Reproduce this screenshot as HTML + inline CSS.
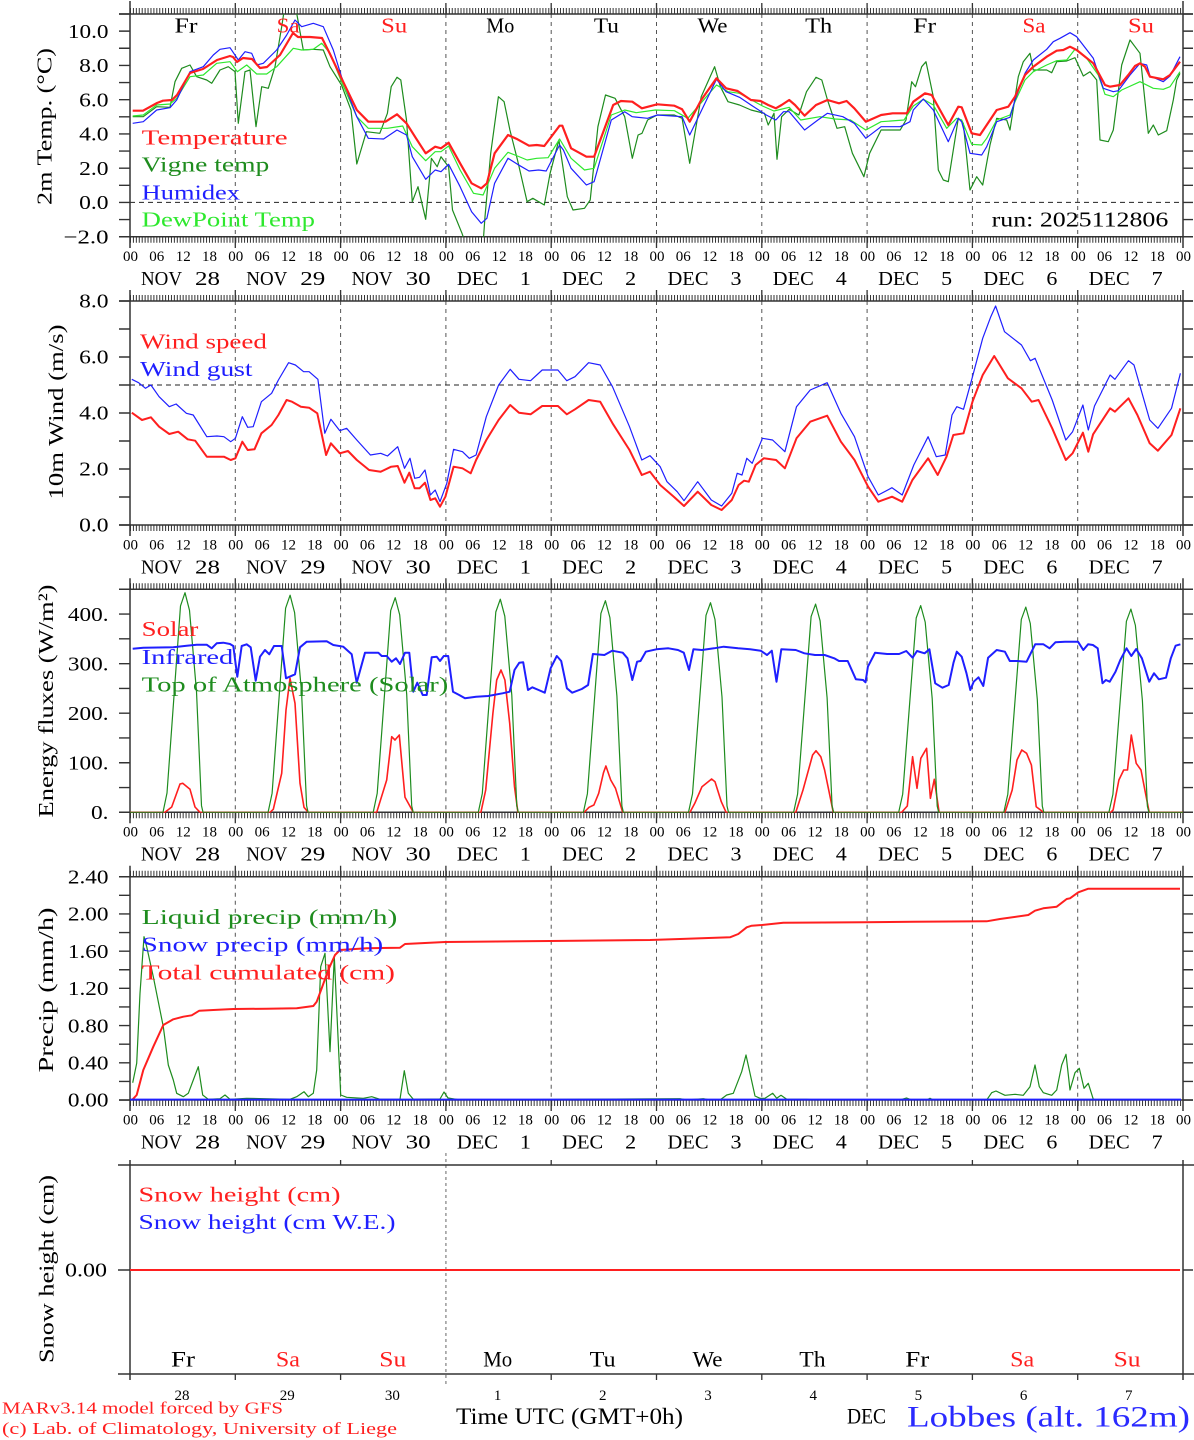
<!DOCTYPE html>
<html><head><meta charset="utf-8"><style>
html,body{margin:0;padding:0;background:#fff;}
svg{display:block;}
text{font-family:"Liberation Serif",serif;}
</style></head><body>
<svg width="1194" height="1440" viewBox="0 0 1194 1440" xmlns="http://www.w3.org/2000/svg">
<rect width="1194" height="1440" fill="#fff"/>
<defs>
<clipPath id="c1"><rect x="130" y="14" width="1053" height="222.7"/></clipPath>
<clipPath id="c2"><rect x="130" y="301" width="1053" height="224"/></clipPath>
<clipPath id="c3"><rect x="130" y="589.3" width="1053" height="223.5"/></clipPath>
<clipPath id="c4"><rect x="130" y="876.7" width="1053" height="223.8"/></clipPath>
</defs>

<!-- ============ PANEL 1 ============ -->
<g stroke="#555" stroke-width="1" stroke-dasharray="4 4" fill="none">
<path d="M235.3 14V236.7M340.6 14V236.7M445.9 14V236.7M551.2 14V236.7M656.5 14V236.7M761.8 14V236.7M867.1 14V236.7M972.4 14V236.7M1077.7 14V236.7"/>
</g>
<line x1="130" y1="202.4" x2="1183" y2="202.4" stroke="#222" stroke-width="1" stroke-dasharray="5 4"/>
<g stroke="#333" fill="none">
<line x1="119" y1="14" x2="1193" y2="14" stroke-width="1.5"/>
<line x1="119" y1="236.7" x2="1193" y2="236.7" stroke-width="1.5"/>
<line x1="130" y1="1" x2="130" y2="248" stroke-width="1.5"/>
<line x1="1183" y1="1" x2="1183" y2="248" stroke-width="1.5"/>
<line x1="130" y1="11" x2="1183" y2="11" stroke-width="6" stroke-dasharray="1 1.925"/>
<line x1="130" y1="239.7" x2="1183" y2="239.7" stroke-width="6" stroke-dasharray="1 1.925"/>
<path stroke-width="1.3" d="M235.3 3V14M340.6 3V14M445.9 3V14M551.2 3V14M656.5 3V14M761.8 3V14M867.1 3V14M972.4 3V14M1077.7 3V14M235.3 236.7V248M340.6 236.7V248M445.9 236.7V248M551.2 236.7V248M656.5 236.7V248M761.8 236.7V248M867.1 236.7V248M972.4 236.7V248M1077.7 236.7V248"/>
<line x1="124.5" y1="13.3" x2="124.5" y2="237.4" stroke-width="11" stroke-dasharray="1.4 15.73"/>
<line x1="1188" y1="13.3" x2="1188" y2="237.4" stroke-width="10" stroke-dasharray="1.4 15.73"/>
</g>
<g clip-path="url(#c1)" fill="none" stroke-linejoin="round">
<polyline stroke="#1e8c1e" stroke-width="1.2" points="132.7,116.7 143.3,116.7 156.7,106.7 170,107.3 175,81.7 181.7,68.3 190,65 196.7,76.7 206.7,80 211.7,83.3 220,70 228.3,66.7 235,71.7 238.3,123.3 245,71.7 250,70 256,126.7 261.7,86.7 268.3,88.3 275,66.7 281.7,26.7 285,5 292,5 296.7,13.3 303.3,50 313.3,49.3 323.3,50 330,66.7 341.5,85 351,110 356.8,164 366.4,131.7 379.8,133.3 387.4,113.3 391.2,86.7 397,77.3 400.8,80 406.5,120 412.3,201.7 418,186.7 425.7,219.3 431.4,158.3 437.2,166.7 441,156.7 448.6,166.7 452.5,210 462,233.3 466,245 483,245 485,216.7 490.7,153.3 498.4,96.7 504.1,101.7 509.9,130 517.5,160 527.1,201.7 532.8,198.3 544.3,205 550.1,173.3 558.9,140 567.3,196.7 573,210 584.5,208.3 590.2,200 597.9,126.7 605.5,95 615.1,98.3 624.7,116.7 632.3,158.3 638.1,135 642,133.3 647.6,120 657.2,115 674.4,115 682.1,118.3 689.7,163.3 701.2,96.7 714.6,66.7 720.4,86.7 728,101.7 739.5,105 751,110 764.4,113.3 768.2,125 774,113.3 777,159.3 781.6,116.7 789.2,109.3 798.8,115 806.5,91.7 816,77.3 821.8,80 827.5,100 837,128.3 844.7,126.7 852.4,153.3 863.9,176.7 869.6,153.3 881.1,130 900.2,130 906,120 911.7,81.7 915.5,86.7 921.7,66.7 926,61.7 933.3,96.7 938.3,170 943.3,180 948.3,181.7 958.3,118.3 963.3,123.3 970,190 976.7,176.7 982.7,185 990,145 996.7,118.3 1006.7,120 1010,130 1018.3,76.7 1023.3,61.7 1030,53.3 1033.3,70 1046.7,70 1051.7,72.7 1056.7,61.7 1066.7,61 1075,57.7 1083.3,76 1090,71.7 1096.7,80 1100,140 1108.3,141.7 1113.3,130 1121.7,65 1130,40 1140,53.3 1148.3,133.3 1153.3,125 1158.3,135 1166.7,130.7 1173.3,100 1176.7,80 1180,73.3"/>
<polyline stroke="#2ee82e" stroke-width="1.2" points="132.7,116 143.3,115 156.7,105 170,104 176.7,98.3 190,76.7 203.3,75 216.7,63.3 230,61.7 237.3,71.7 246.7,65 256.7,74 266.7,74 276.7,66.7 293.3,48.3 301.7,50 313.3,49.3 321.7,43.3 330,53.3 341.5,81.7 356.8,116.7 368.3,128.3 387.4,128.3 402.7,126 412.3,146.7 425.7,160.7 435.2,151.7 441,151.7 448.6,146 460.1,170 473.5,193.3 483.1,195 494.6,168.3 508,152.3 517.5,156 527.1,160 536.7,158.3 548.1,157.7 559.6,139 571.1,158.3 584.5,170 594.1,168.3 611.3,115 624.7,110 636.2,112.7 655.3,110 674.4,110.7 687.8,118.3 716.5,85 728,91.7 739.5,93.3 762.5,106 773.9,111 789.2,107.3 800.7,120 819.9,116.7 835.2,119 850.5,120 865.8,130 881.1,121.7 904,120 913.3,106 923.3,99.3 933.3,105 946.7,128.3 956.7,118.3 961.7,120 971.7,144.3 981.7,145 986.7,138.3 996.7,120 1010,115 1015,101.7 1025,80 1033.3,71.7 1046.7,65 1056.7,60.7 1066.7,60 1075,49.3 1086.7,58.3 1098.3,75 1105,94.3 1113.3,96.7 1121.7,90 1140,81.7 1153.3,88.3 1163.3,89.3 1170,86.7 1180,71.7"/>
<polyline stroke="#1f1fff" stroke-width="1.2" points="132.7,123.3 143.3,121.7 156.7,110 170,107.7 176.7,100 190,71.7 203.3,66.7 213.3,55 220,49.3 230,47.7 238.3,60 245,51.7 251.7,53.3 256.7,65 263.3,63.3 276.7,50 286.7,35 295,20 301.7,26.7 313.3,23.3 323.3,26.7 333.3,50 341.5,76.7 356.8,116.7 368.3,138.3 383.6,139 397,130 406.5,135 412.3,156.7 425.7,179.3 435.2,170 441,171.7 448.6,164.3 460.1,186.7 471.6,211.7 481.2,223.3 486.9,218.3 494.6,183.3 508,158.3 517.5,164.3 529,171 538.6,170 546.2,171 559.6,145 563.4,150 571.1,168.3 586.4,185 594.1,181.7 611.3,120 624.7,111.7 632.3,116.7 647.6,118.3 657.2,115 682.1,116.7 689.7,135 716.5,79.3 726.1,91.7 739.5,97.3 751,105 766.3,115 775.8,120 783.5,111.7 789.2,111.7 804.6,130 817.9,120 827.5,113.3 842.8,116.7 854.3,123.3 865.8,138.3 881.1,126.7 900.2,126.7 910,121.7 913.3,110 923.3,99 933.3,110 948.3,141.7 958.3,118.3 961.7,121.7 970,153.3 981.7,155 986.7,146.7 996.7,121.7 1010,117.3 1015,100 1025,73.3 1033.3,60 1046.7,49.3 1053.3,41.7 1060,38.3 1070,32.7 1076.7,36.7 1093.3,58.3 1103.3,88.3 1113.3,91.7 1118.3,90.7 1130,75 1140,63.3 1146.7,65 1150,76 1163.3,81.7 1170,76 1180,56.7"/>
<polyline stroke="#ff1f1f" stroke-width="2.2" points="132.7,110.7 143,110.7 157,103 163,100.7 172,100 177,95 190,73 203,69 217,60 230,56 233,57 237,62 243,58 252,59 260,68 267,67 280,55 293,33 298,37 310,37 322,38 330,54 341.5,78.3 356.8,110 368.3,121.7 385.5,121.7 397,114.3 406.5,123.3 416,138.3 425.7,153.3 435.2,146.7 441,148.3 448.6,142.7 460.1,163.3 471.6,183.3 481.2,188.3 486.9,183.3 494.6,153.3 508,135 517.5,139.3 529,145.7 536.7,145 544.3,146 559.6,125.7 562.3,125.7 571.1,148.3 586.4,156.7 594.1,156.7 613.2,105 620.9,101 632.3,101.7 641.9,108.3 657.2,104.3 674.4,105.7 682.1,109.3 689.7,121.7 701.2,100 716.5,78.3 726.1,88.3 737.6,91 751,100 760.5,101 768.2,105 775.8,108.3 781.6,105 789.2,100 795,105 804.6,115.7 816,105 827.5,100 839,103.3 846.6,101 854.3,108.3 865.8,121.7 881.1,115 892.6,113.3 906.7,113.3 913.3,101.7 925,93.3 931.7,95 948.3,125 958.3,106.7 961.7,107.3 971.7,133.3 980,135 986.7,125 996.7,110 1008.3,106.7 1015,96.7 1025,75 1033.3,66.7 1046.7,56.7 1056.7,50.7 1063.3,50 1070,46.7 1076.7,50 1093.3,63.3 1105,85 1110,86.7 1120,85 1128.3,75 1135,66 1140,63.3 1145,66.7 1150,76.7 1163.3,79.3 1170,75 1180,61.7"/>
</g>
<g font-size="21" text-anchor="middle">
<text x="186" y="32.3" textLength="23" lengthAdjust="spacingAndGlyphs">Fr</text>
<text x="288.1" y="32.3" textLength="23" lengthAdjust="spacingAndGlyphs" fill="#ff1f1f">Sa</text>
<text x="394.2" y="32.3" textLength="26" lengthAdjust="spacingAndGlyphs" fill="#ff1f1f">Su</text>
<text x="500.3" y="32.3" textLength="28" lengthAdjust="spacingAndGlyphs">Mo</text>
<text x="606.4" y="32.3" textLength="25" lengthAdjust="spacingAndGlyphs">Tu</text>
<text x="712.5" y="32.3" textLength="30" lengthAdjust="spacingAndGlyphs">We</text>
<text x="818.6" y="32.3" textLength="27" lengthAdjust="spacingAndGlyphs">Th</text>
<text x="924.7" y="32.3" textLength="23" lengthAdjust="spacingAndGlyphs">Fr</text>
<text x="1034" y="32.3" textLength="23" lengthAdjust="spacingAndGlyphs" fill="#ff1f1f">Sa</text>
<text x="1141" y="32.3" textLength="26" lengthAdjust="spacingAndGlyphs" fill="#ff1f1f">Su</text>
</g>
<g font-size="21.5">
<text x="141.7" y="144.3" textLength="146" lengthAdjust="spacingAndGlyphs" fill="#ff1f1f">Temperature</text>
<text x="141.7" y="171.7" textLength="127.6" lengthAdjust="spacingAndGlyphs" fill="#1e8c1e">Vigne temp</text>
<text x="141.7" y="199.3" textLength="98.3" lengthAdjust="spacingAndGlyphs" fill="#1f1fff">Humidex</text>
<text x="141.7" y="226.7" textLength="173.3" lengthAdjust="spacingAndGlyphs" fill="#2ee82e">DewPoint Temp</text>
<text x="991.7" y="226.7" textLength="176.6" lengthAdjust="spacingAndGlyphs" font-size="21">run: 2025112806</text>
</g>
<g font-size="20" text-anchor="end">
<text x="108.5" y="37.8" textLength="40.6" lengthAdjust="spacingAndGlyphs">10.0</text>
<text x="108.5" y="72.1" textLength="29.4" lengthAdjust="spacingAndGlyphs">8.0</text>
<text x="108.5" y="106.3" textLength="29.4" lengthAdjust="spacingAndGlyphs">6.0</text>
<text x="108.5" y="140.6" textLength="29.4" lengthAdjust="spacingAndGlyphs">4.0</text>
<text x="108.5" y="174.8" textLength="29.4" lengthAdjust="spacingAndGlyphs">2.0</text>
<text x="108.5" y="209.1" textLength="29.4" lengthAdjust="spacingAndGlyphs">0.0</text>
<text x="108.5" y="243.4" textLength="45" lengthAdjust="spacingAndGlyphs">−2.0</text>
</g>
<text transform="translate(51.5,126.5) rotate(-90)" font-size="21" text-anchor="middle" textLength="157" lengthAdjust="spacingAndGlyphs">2m Temp. (°C)</text>
<text font-size="15" y="261" x="123 130.5 149.3 156.8 175.7 183.2 202 209.5 228.3 235.8 254.6 262.1 281 288.5 307.3 314.8 333.6 341.1 359.9 367.4 386.3 393.8 412.6 420.1 438.9 446.4 465.2 472.7 491.6 499.1 517.9 525.4 544.2 551.7 570.5 578 596.9 604.4 623.2 630.7 649.5 657 675.8 683.3 702.2 709.7 728.5 736 754.8 762.3 781.1 788.6 807.5 815 833.8 841.3 860.1 867.6 886.4 893.9 912.8 920.3 939.1 946.6 965.4 972.9 991.7 999.2 1018.1 1025.6 1044.4 1051.9 1070.7 1078.2 1097 1104.5 1123.4 1130.9 1149.7 1157.2 1176 1183.5">0006121800061218000612180006121800061218000612180006121800061218000612180006121800</text>
<g font-size="20">
<text x="141" y="285" textLength="41" lengthAdjust="spacingAndGlyphs">NOV</text><text x="220" y="285" text-anchor="end" textLength="25" lengthAdjust="spacingAndGlyphs">28</text>
<text x="246.3" y="285" textLength="41" lengthAdjust="spacingAndGlyphs">NOV</text><text x="325.3" y="285" text-anchor="end" textLength="25" lengthAdjust="spacingAndGlyphs">29</text>
<text x="351.6" y="285" textLength="41" lengthAdjust="spacingAndGlyphs">NOV</text><text x="430.6" y="285" text-anchor="end" textLength="25" lengthAdjust="spacingAndGlyphs">30</text>
<text x="456.9" y="285" textLength="41" lengthAdjust="spacingAndGlyphs">DEC</text><text x="530.9" y="285" text-anchor="end" textLength="11" lengthAdjust="spacingAndGlyphs">1</text>
<text x="562.2" y="285" textLength="41" lengthAdjust="spacingAndGlyphs">DEC</text><text x="636.2" y="285" text-anchor="end" textLength="11" lengthAdjust="spacingAndGlyphs">2</text>
<text x="667.5" y="285" textLength="41" lengthAdjust="spacingAndGlyphs">DEC</text><text x="741.5" y="285" text-anchor="end" textLength="11" lengthAdjust="spacingAndGlyphs">3</text>
<text x="772.8" y="285" textLength="41" lengthAdjust="spacingAndGlyphs">DEC</text><text x="846.8" y="285" text-anchor="end" textLength="11" lengthAdjust="spacingAndGlyphs">4</text>
<text x="878.1" y="285" textLength="41" lengthAdjust="spacingAndGlyphs">DEC</text><text x="952.1" y="285" text-anchor="end" textLength="11" lengthAdjust="spacingAndGlyphs">5</text>
<text x="983.4" y="285" textLength="41" lengthAdjust="spacingAndGlyphs">DEC</text><text x="1057.4" y="285" text-anchor="end" textLength="11" lengthAdjust="spacingAndGlyphs">6</text>
<text x="1088.7" y="285" textLength="41" lengthAdjust="spacingAndGlyphs">DEC</text><text x="1162.7" y="285" text-anchor="end" textLength="11" lengthAdjust="spacingAndGlyphs">7</text>
</g>

<!-- ============ PANEL 2 ============ -->
<g stroke="#555" stroke-width="1" stroke-dasharray="4 4" fill="none">
<path d="M235.3 301V525M340.6 301V525M445.9 301V525M551.2 301V525M656.5 301V525M761.8 301V525M867.1 301V525M972.4 301V525M1077.7 301V525"/>
</g>
<line x1="130" y1="385" x2="1183" y2="385" stroke="#222" stroke-width="1" stroke-dasharray="5 4"/>
<g stroke="#333" fill="none">
<line x1="119" y1="301" x2="1193" y2="301" stroke-width="1.5"/>
<line x1="119" y1="525" x2="1193" y2="525" stroke-width="1.5"/>
<line x1="130" y1="290" x2="130" y2="536" stroke-width="1.5"/>
<line x1="1183" y1="290" x2="1183" y2="536" stroke-width="1.5"/>
<line x1="130" y1="298" x2="1183" y2="298" stroke-width="6" stroke-dasharray="1 1.925"/>
<line x1="130" y1="528" x2="1183" y2="528" stroke-width="6" stroke-dasharray="1 1.925"/>
<path stroke-width="1.3" d="M235.3 290V301M340.6 290V301M445.9 290V301M551.2 290V301M656.5 290V301M761.8 290V301M867.1 290V301M972.4 290V301M1077.7 290V301M235.3 525V536M340.6 525V536M445.9 525V536M551.2 525V536M656.5 525V536M761.8 525V536M867.1 525V536M972.4 525V536M1077.7 525V536"/>
<line x1="124.5" y1="300.3" x2="124.5" y2="525.7" stroke-width="11" stroke-dasharray="1.4 26.6"/>
<line x1="1188" y1="300.3" x2="1188" y2="525.7" stroke-width="10" stroke-dasharray="1.4 26.6"/>
</g>
<g clip-path="url(#c2)" fill="none" stroke-linejoin="round">
<polyline stroke="#1f1fff" stroke-width="1.2" points="131.8,379.3 138.6,382.7 145.5,388.3 150.9,385 159.1,396.7 169.3,406.7 176.1,404 186.4,413.3 193.2,415 206.8,436.7 217,436 223.9,436.7 230.7,441.7 235.4,438.3 242.3,416.7 247.7,427.3 253.2,426.7 261.4,401.7 271.6,393.3 278.4,380 288.6,362.7 295.4,365 303.6,371.7 309.1,371.7 317.9,379.3 324.8,433.3 330.9,419.3 339.8,430.7 346.6,428.3 356.8,440 370.4,455 380.7,453.3 387.5,456 397.7,446.7 404.5,468.3 410,458.3 414.7,478.3 419.5,477.3 425,470 430.4,495 435.2,490 440,501.7 446.8,483.3 453.6,449.3 462.5,451.7 469.3,458.3 476.1,455 486.3,416.7 498.6,385 510.2,369.3 519,379.3 530.6,380.7 542.2,370 557.9,370 566.8,380.7 575,376.7 588.6,362.7 600.2,365 612.5,386.7 629.5,426.7 641.8,460 650,455.7 660.2,466.7 667,481.7 677.2,491.7 684,500.7 697.7,481.7 711.3,500 721.6,506 731.8,493.3 737.2,473.3 742,475 746.8,458.3 752.2,463.3 762.4,438.3 772.6,440 784.9,451.7 796.5,406.7 810.2,390 827.2,382.7 840.9,413.3 854.5,436.7 868.1,476.7 878.3,495 892,487.7 902.2,495 913.8,465 928.1,436.7 936.3,456.7 945.2,455 952,415 956.8,406.7 963.5,409.3 972.5,376.7 982.7,338.3 990.8,316.7 995.6,306 1004.5,331.7 1021.5,345 1030.4,360.7 1035.1,358.3 1052.2,400 1065.8,440 1072.6,431.7 1082.9,405 1088.3,430 1094.5,406 1110.1,375 1114.9,379.3 1128.5,360.7 1134,365 1149.7,420 1157.9,428.3 1171.5,408.3 1180.4,373.3"/>
<polyline stroke="#ff1f1f" stroke-width="2" points="131.8,412.7 142,420 150.9,417.3 159.1,426.7 169.3,434 178.2,431.7 187.7,439.3 195.2,440.7 206.8,456.7 217,456.7 223.9,456.7 230.7,460 235.4,458.3 242.3,441.7 247.7,450 254.5,449.3 261.4,433.3 271.6,425 278.4,415 286.6,400 292,401.7 300.9,406.7 309.1,407.7 317.3,413.3 326.1,455 330.9,443.3 339.8,453.3 348,451 356.8,460 369.1,470 380.7,471.7 391.2,466.7 397.7,466 404.5,482.7 409.3,472.7 414.7,488.3 419.5,488.3 425,482.7 430.4,500 435.2,498.3 440,506.7 445.4,496.7 453.6,466.7 462.5,468.3 470.7,473.3 476.1,460 486.3,440 498.6,420 510.2,405 519,412.7 530.6,414.3 542.2,406 557.9,406 566.8,414.3 575,409.3 588.6,400 600.2,401.7 612.5,423.3 629.5,450 641.8,475 650,471.7 660.2,485 673.8,496.7 684,506 697.7,491.7 711.3,505 721.6,510 731.8,500 738.6,485 744.1,480.7 748.8,481.7 755.6,465 763.8,458.3 776.1,460 784.9,468.3 796.5,438.3 810.2,421.7 827.2,415.7 840.9,441.7 854.5,460 868.1,486.7 878.3,501.7 892,496.7 902.2,501.7 912.4,480 928.1,458.3 937.7,475 946.5,456.7 953.3,435 963.5,433.3 972.5,401.7 982.7,375 994.2,356 1007.9,378.3 1021.5,388.3 1031.7,401.7 1038.5,400 1052.2,428.3 1065.8,460 1072.6,453.3 1082.9,432.7 1088.3,451.7 1093.1,434.3 1110.1,408.3 1114.9,411.7 1128.5,398.3 1137.4,415 1149.7,443.3 1157.9,450.7 1171.5,435 1180.4,408.3"/>
</g>
<g font-size="21.5">
<text x="140" y="348.3" textLength="126.8" lengthAdjust="spacingAndGlyphs" fill="#ff1f1f">Wind speed</text>
<text x="140" y="376" textLength="112.5" lengthAdjust="spacingAndGlyphs" fill="#1f1fff">Wind gust</text>
</g>
<g font-size="20" text-anchor="end">
<text x="108.5" y="307.7" textLength="29.4" lengthAdjust="spacingAndGlyphs">8.0</text>
<text x="108.5" y="363.7" textLength="29.4" lengthAdjust="spacingAndGlyphs">6.0</text>
<text x="108.5" y="419.7" textLength="29.4" lengthAdjust="spacingAndGlyphs">4.0</text>
<text x="108.5" y="475.7" textLength="29.4" lengthAdjust="spacingAndGlyphs">2.0</text>
<text x="108.5" y="531.7" textLength="29.4" lengthAdjust="spacingAndGlyphs">0.0</text>
</g>
<text transform="translate(63,412) rotate(-90)" font-size="21" text-anchor="middle" textLength="175" lengthAdjust="spacingAndGlyphs">10m Wind (m/s)</text>
<text font-size="15" y="549.3" x="123 130.5 149.3 156.8 175.7 183.2 202 209.5 228.3 235.8 254.6 262.1 281 288.5 307.3 314.8 333.6 341.1 359.9 367.4 386.3 393.8 412.6 420.1 438.9 446.4 465.2 472.7 491.6 499.1 517.9 525.4 544.2 551.7 570.5 578 596.9 604.4 623.2 630.7 649.5 657 675.8 683.3 702.2 709.7 728.5 736 754.8 762.3 781.1 788.6 807.5 815 833.8 841.3 860.1 867.6 886.4 893.9 912.8 920.3 939.1 946.6 965.4 972.9 991.7 999.2 1018.1 1025.6 1044.4 1051.9 1070.7 1078.2 1097 1104.5 1123.4 1130.9 1149.7 1157.2 1176 1183.5">0006121800061218000612180006121800061218000612180006121800061218000612180006121800</text>
<g font-size="20">
<text x="141" y="573.3" textLength="41" lengthAdjust="spacingAndGlyphs">NOV</text><text x="220" y="573.3" text-anchor="end" textLength="25" lengthAdjust="spacingAndGlyphs">28</text>
<text x="246.3" y="573.3" textLength="41" lengthAdjust="spacingAndGlyphs">NOV</text><text x="325.3" y="573.3" text-anchor="end" textLength="25" lengthAdjust="spacingAndGlyphs">29</text>
<text x="351.6" y="573.3" textLength="41" lengthAdjust="spacingAndGlyphs">NOV</text><text x="430.6" y="573.3" text-anchor="end" textLength="25" lengthAdjust="spacingAndGlyphs">30</text>
<text x="456.9" y="573.3" textLength="41" lengthAdjust="spacingAndGlyphs">DEC</text><text x="530.9" y="573.3" text-anchor="end" textLength="11" lengthAdjust="spacingAndGlyphs">1</text>
<text x="562.2" y="573.3" textLength="41" lengthAdjust="spacingAndGlyphs">DEC</text><text x="636.2" y="573.3" text-anchor="end" textLength="11" lengthAdjust="spacingAndGlyphs">2</text>
<text x="667.5" y="573.3" textLength="41" lengthAdjust="spacingAndGlyphs">DEC</text><text x="741.5" y="573.3" text-anchor="end" textLength="11" lengthAdjust="spacingAndGlyphs">3</text>
<text x="772.8" y="573.3" textLength="41" lengthAdjust="spacingAndGlyphs">DEC</text><text x="846.8" y="573.3" text-anchor="end" textLength="11" lengthAdjust="spacingAndGlyphs">4</text>
<text x="878.1" y="573.3" textLength="41" lengthAdjust="spacingAndGlyphs">DEC</text><text x="952.1" y="573.3" text-anchor="end" textLength="11" lengthAdjust="spacingAndGlyphs">5</text>
<text x="983.4" y="573.3" textLength="41" lengthAdjust="spacingAndGlyphs">DEC</text><text x="1057.4" y="573.3" text-anchor="end" textLength="11" lengthAdjust="spacingAndGlyphs">6</text>
<text x="1088.7" y="573.3" textLength="41" lengthAdjust="spacingAndGlyphs">DEC</text><text x="1162.7" y="573.3" text-anchor="end" textLength="11" lengthAdjust="spacingAndGlyphs">7</text>
</g>

<!-- ============ PANEL 3 ============ -->
<g stroke="#555" stroke-width="1" stroke-dasharray="4 4" fill="none">
<path d="M235.3 589.3V812.3M340.6 589.3V812.3M445.9 589.3V812.3M551.2 589.3V812.3M656.5 589.3V812.3M761.8 589.3V812.3M867.1 589.3V812.3M972.4 589.3V812.3M1077.7 589.3V812.3"/>
</g>
<g stroke="#333" fill="none">
<line x1="119" y1="589.3" x2="1193" y2="589.3" stroke-width="1.5"/>
<line x1="119" y1="812.3" x2="1193" y2="812.3" stroke-width="1.5"/>
<line x1="130" y1="578.3" x2="130" y2="823.3" stroke-width="1.5"/>
<line x1="1183" y1="578.3" x2="1183" y2="823.3" stroke-width="1.5"/>
<line x1="130" y1="586.3" x2="1183" y2="586.3" stroke-width="6" stroke-dasharray="1 1.925"/>
<line x1="130" y1="815.3" x2="1183" y2="815.3" stroke-width="6" stroke-dasharray="1 1.925"/>
<path stroke-width="1.3" d="M235.3 578.3V589.3M340.6 578.3V589.3M445.9 578.3V589.3M551.2 578.3V589.3M656.5 578.3V589.3M761.8 578.3V589.3M867.1 578.3V589.3M972.4 578.3V589.3M1077.7 578.3V589.3M235.3 812.3V823.3M340.6 812.3V823.3M445.9 812.3V823.3M551.2 812.3V823.3M656.5 812.3V823.3M761.8 812.3V823.3M867.1 812.3V823.3M972.4 812.3V823.3M1077.7 812.3V823.3"/>
<line x1="124.5" y1="588.6" x2="124.5" y2="813" stroke-width="11" stroke-dasharray="1.4 23.38"/>
<line x1="1188" y1="588.6" x2="1188" y2="813" stroke-width="10" stroke-dasharray="1.4 23.38"/>
</g>
<g clip-path="url(#c3)" fill="none" stroke-linejoin="round">
<polyline stroke="#ff1f1f" stroke-width="1.6" points="130,812.3 165,812.3 171.7,807 180,784 182.7,783.3 190,789.3 195,807 200,812.3 270,812.3 273.3,809.3 281.7,773.3 286,710 290,678.3 295,703.3 300,783.3 304,807.3 308.3,812.3 376.7,812.3 386.7,780 391.7,736.7 395,740 399.3,735 405,797.3 413.3,812.3 480.9,812.3 485.7,790 492.9,713.3 496.7,680 501,670 504.9,680 509.7,723.3 514.5,786.7 517.9,812.3 584.2,812.3 589,807.3 593.9,805 598.7,793.3 603.5,772.7 605.9,766 610.7,780 615.5,788.3 622.7,812.3 690,812.3 694.8,803.3 702,786.7 711.6,779 715,781.7 721.3,801.7 726.1,812.3 795.8,812.3 803,790 812.6,755 816,750.7 820.8,756.7 824.6,770 833.3,812.3 901.6,812.3 907.3,806 912.6,756.7 917,788.3 920.8,758.3 926.6,748.3 930.4,798.3 934.3,779.3 939.1,812.3 1005,812.3 1012.2,790 1017,760 1021.8,750 1026.6,753.3 1031.4,765 1036.2,806.7 1043.5,812.3 1110.7,812.3 1113.1,810 1118.9,780 1123.7,770 1127.5,770 1131.3,735 1136.2,763.3 1141,770 1149.2,812.3 1183,812.3"/>
<polyline stroke="#1e8c1e" stroke-width="1.2" points="130,812.3 163,812.3 167,793 180.5,605.9 185,592.7 189.5,610.3 196.5,691.5 201.5,805.7 203,812.3 268.1,812.3 272.1,793.2 285.6,608.2 290.1,595.2 294.6,612.6 301.6,692.9 306.6,805.8 308.1,812.3 373.2,812.3 377.2,793.4 390.7,610.6 395.2,597.7 399.7,614.9 406.7,694.3 411.7,805.9 413.2,812.3 478.3,812.3 482.3,793.5 495.8,612 500.3,599.2 504.8,616.2 511.8,695.1 516.8,805.9 518.3,812.3 583.4,812.3 587.4,793.7 600.9,613.4 605.4,600.7 609.9,617.6 616.9,695.9 621.9,806 623.4,812.3 688.5,812.3 692.5,793.9 706,615.3 710.5,602.7 715,619.5 722,697 727,806 728.5,812.3 793.6,812.3 797.6,794 811.1,616.6 815.6,604.1 820.1,620.8 827.1,697.8 832.1,806.1 833.6,812.3 898.7,812.3 902.7,794.1 916.2,618 920.7,605.6 925.2,622.1 932.2,698.6 937.2,806.1 938.7,812.3 1003.8,812.3 1007.8,794.2 1021.3,619.4 1025.8,607.1 1030.3,623.5 1037.3,699.4 1042.3,806.1 1043.8,812.3 1108.9,812.3 1112.9,794.4 1126.4,621.3 1130.9,609.1 1135.4,625.4 1142.4,700.5 1147.4,806.2 1148.9,812.3 1183,812.3"/>
<polyline stroke="#1f1fff" stroke-width="2" points="132.7,648.7 143.3,647.7 173.3,647.3 186.7,645.7 196.7,644.7 206.7,644.7 211.7,648.3 216.7,643.3 223.3,642.7 230,644 233.3,646 237.3,676.7 241.7,646 246.7,644.3 250.7,647.3 255.7,680.7 260,656.7 265,650 269.3,654.3 274,646 281.7,646 286,678.3 295,674.3 300,647.3 306.7,641.7 326.7,641.3 333.3,645 343.3,646.7 351.7,654.3 356.7,682.7 365,652.7 378.3,652.7 381.7,656 386.7,656 391.7,661.7 396,658.3 400,664 405,652.7 409.3,652.7 413.3,691.7 417.3,682.7 422.7,695 426.7,695 431.7,657.3 436.7,656.7 440,661 443.8,656 448.2,656 453,691.7 459.2,695 465,698.3 476.1,696.7 488.1,696 502.5,693.3 509.7,691.7 514.5,670 519.3,662.7 523.2,662.3 528,690 532.3,687.3 538.6,690 544.8,692.7 550.6,668.3 556.8,656 561.2,661 566.9,688.3 572.2,692.7 581.8,689 588.1,685 592.9,654 604.4,655 612.1,650.7 622.7,652.7 627.5,658.3 632.3,680 637.1,661.7 640.5,661 645.8,651.7 656.4,649.3 668.4,648.3 678,650 683.8,652.7 689,670 693.4,649.3 702,650 714,648.3 723.7,646.7 738.1,648.3 750.1,649.3 760.7,650.7 767,655 771.8,650.7 776.5,681.7 781.3,649.3 795.8,650 804.4,653.3 815,655 824.6,655 834.2,658.3 839,661 847.7,661 855.9,679.3 863.1,680 865.5,682.3 867.9,666.7 875.1,652.7 887.1,654 899.1,654 906.3,651 912.6,657.7 917,651 924.6,653.3 929.4,649.3 935.2,683.3 942.4,687.7 948.7,685 953.5,662.7 956.8,651.7 961.7,656.7 966.5,673.3 970.3,690 973.7,681.7 978.5,677.3 983.3,686 988.1,657.7 996.7,650 1004.9,651.7 1009.8,661 1017,661 1026.6,661.7 1035.2,644.3 1043.4,644.3 1049.6,648.3 1055.4,642.3 1065,641.7 1078,641.7 1083.3,650 1088.1,644.3 1092.9,645 1097.7,648.3 1102.5,683.3 1105.9,680 1109.7,681.7 1115.5,671.7 1120.3,660 1126.5,648.3 1131.3,656 1136.2,649 1141.9,658.3 1149.2,681.7 1154,673.3 1158.8,679.3 1166,677.7 1170.8,658.3 1175.6,645.7 1180.4,644.3"/>
</g>
<g font-size="21.5">
<text x="141.7" y="636" textLength="56.6" lengthAdjust="spacingAndGlyphs" fill="#ff1f1f">Solar</text>
<text x="141.7" y="664" textLength="91.6" lengthAdjust="spacingAndGlyphs" fill="#1f1fff">Infrared</text>
<text x="141.7" y="691.7" textLength="306.6" lengthAdjust="spacingAndGlyphs" fill="#1e8c1e">Top of Atmosphere (Solar)</text>
</g>
<g font-size="20" text-anchor="end">
<text x="108.5" y="620.8" textLength="40.6" lengthAdjust="spacingAndGlyphs">400.</text>
<text x="108.5" y="670.3" textLength="40.6" lengthAdjust="spacingAndGlyphs">300.</text>
<text x="108.5" y="719.9" textLength="40.6" lengthAdjust="spacingAndGlyphs">200.</text>
<text x="108.5" y="769.4" textLength="40.6" lengthAdjust="spacingAndGlyphs">100.</text>
<text x="108.5" y="819" textLength="17.5" lengthAdjust="spacingAndGlyphs">0.</text>
</g>
<text transform="translate(53,701) rotate(-90)" font-size="21" text-anchor="middle" textLength="233" lengthAdjust="spacingAndGlyphs">Energy fluxes (W/m²)</text>
<text font-size="15" y="836.6" x="123 130.5 149.3 156.8 175.7 183.2 202 209.5 228.3 235.8 254.6 262.1 281 288.5 307.3 314.8 333.6 341.1 359.9 367.4 386.3 393.8 412.6 420.1 438.9 446.4 465.2 472.7 491.6 499.1 517.9 525.4 544.2 551.7 570.5 578 596.9 604.4 623.2 630.7 649.5 657 675.8 683.3 702.2 709.7 728.5 736 754.8 762.3 781.1 788.6 807.5 815 833.8 841.3 860.1 867.6 886.4 893.9 912.8 920.3 939.1 946.6 965.4 972.9 991.7 999.2 1018.1 1025.6 1044.4 1051.9 1070.7 1078.2 1097 1104.5 1123.4 1130.9 1149.7 1157.2 1176 1183.5">0006121800061218000612180006121800061218000612180006121800061218000612180006121800</text>
<g font-size="20">
<text x="141" y="860.6" textLength="41" lengthAdjust="spacingAndGlyphs">NOV</text><text x="220" y="860.6" text-anchor="end" textLength="25" lengthAdjust="spacingAndGlyphs">28</text>
<text x="246.3" y="860.6" textLength="41" lengthAdjust="spacingAndGlyphs">NOV</text><text x="325.3" y="860.6" text-anchor="end" textLength="25" lengthAdjust="spacingAndGlyphs">29</text>
<text x="351.6" y="860.6" textLength="41" lengthAdjust="spacingAndGlyphs">NOV</text><text x="430.6" y="860.6" text-anchor="end" textLength="25" lengthAdjust="spacingAndGlyphs">30</text>
<text x="456.9" y="860.6" textLength="41" lengthAdjust="spacingAndGlyphs">DEC</text><text x="530.9" y="860.6" text-anchor="end" textLength="11" lengthAdjust="spacingAndGlyphs">1</text>
<text x="562.2" y="860.6" textLength="41" lengthAdjust="spacingAndGlyphs">DEC</text><text x="636.2" y="860.6" text-anchor="end" textLength="11" lengthAdjust="spacingAndGlyphs">2</text>
<text x="667.5" y="860.6" textLength="41" lengthAdjust="spacingAndGlyphs">DEC</text><text x="741.5" y="860.6" text-anchor="end" textLength="11" lengthAdjust="spacingAndGlyphs">3</text>
<text x="772.8" y="860.6" textLength="41" lengthAdjust="spacingAndGlyphs">DEC</text><text x="846.8" y="860.6" text-anchor="end" textLength="11" lengthAdjust="spacingAndGlyphs">4</text>
<text x="878.1" y="860.6" textLength="41" lengthAdjust="spacingAndGlyphs">DEC</text><text x="952.1" y="860.6" text-anchor="end" textLength="11" lengthAdjust="spacingAndGlyphs">5</text>
<text x="983.4" y="860.6" textLength="41" lengthAdjust="spacingAndGlyphs">DEC</text><text x="1057.4" y="860.6" text-anchor="end" textLength="11" lengthAdjust="spacingAndGlyphs">6</text>
<text x="1088.7" y="860.6" textLength="41" lengthAdjust="spacingAndGlyphs">DEC</text><text x="1162.7" y="860.6" text-anchor="end" textLength="11" lengthAdjust="spacingAndGlyphs">7</text>
</g>

<!-- ============ PANEL 4 ============ -->
<g stroke="#555" stroke-width="1" stroke-dasharray="4 4" fill="none">
<path d="M235.3 876.7V1100M340.6 876.7V1100M445.9 876.7V1100M551.2 876.7V1100M656.5 876.7V1100M761.8 876.7V1100M867.1 876.7V1100M972.4 876.7V1100M1077.7 876.7V1100"/>
</g>
<g stroke="#333" fill="none">
<line x1="119" y1="876.7" x2="1193" y2="876.7" stroke-width="1.5"/>
<line x1="119" y1="1100" x2="1193" y2="1100" stroke-width="1.5"/>
<line x1="130" y1="865.7" x2="130" y2="1111" stroke-width="1.5"/>
<line x1="1183" y1="865.7" x2="1183" y2="1111" stroke-width="1.5"/>
<line x1="130" y1="873.7" x2="1183" y2="873.7" stroke-width="6" stroke-dasharray="1 1.925"/>
<line x1="130" y1="1103" x2="1183" y2="1103" stroke-width="6" stroke-dasharray="1 1.925"/>
<path stroke-width="1.3" d="M235.3 865.7V876.7M340.6 865.7V876.7M445.9 865.7V876.7M551.2 865.7V876.7M656.5 865.7V876.7M761.8 865.7V876.7M867.1 865.7V876.7M972.4 865.7V876.7M1077.7 865.7V876.7M235.3 1100V1111M340.6 1100V1111M445.9 1100V1111M551.2 1100V1111M656.5 1100V1111M761.8 1100V1111M867.1 1100V1111M972.4 1100V1111M1077.7 1100V1111"/>
<line x1="124.5" y1="876" x2="124.5" y2="1100.7" stroke-width="11" stroke-dasharray="1.4 17.21"/>
<line x1="1188" y1="876" x2="1188" y2="1100.7" stroke-width="10" stroke-dasharray="1.4 17.21"/>
</g>
<g clip-path="url(#c4)" fill="none" stroke-linejoin="round">
<polyline stroke="#1e8c1e" stroke-width="1.2" points="132.7,1082.7 136.7,1063.3 140,993.3 144,936.7 146.7,946.7 153.3,976.7 159.3,1006.7 163.3,1026.7 168.3,1065 173.3,1080 176.7,1093.3 183.3,1096.7 188.3,1093.3 193.3,1080 198.3,1066.7 202.7,1095 208.3,1099.3 220,1098.7 225,1095 230,1099.3 246.7,1098.3 290,1099.3 296.7,1096.7 304,1091.7 308.3,1096.7 313.3,1093.3 316.7,1070 320.7,966.7 325,953.3 330,1051.7 334.3,956.7 340.7,1095 346.7,1097.3 363.3,1098.3 371.7,1096.7 380,1099.3 400,1099.3 404.3,1070.7 408.3,1093.3 413.3,1099.3 440,1099 444,1092 448,1098 460,1100 680,1098.7 686.7,1100 703.3,1098.7 710,1100 720,1100 726.7,1095 733.3,1093.3 741.7,1071.7 746,1055 755,1096 760,1098.3 765,1098.3 772.7,1093.3 776.7,1098.3 781,1095.3 786.7,1099.3 806.7,1099.3 816.7,1100 900,1100 906.7,1098 911.7,1100 926.7,1100 930,1098.3 933.3,1100 986.7,1100 991.7,1092.7 996,1091 1005,1095.3 1015,1094.3 1023.3,1095.3 1030,1086.7 1035,1065 1039.3,1086.7 1043.3,1092.7 1051.7,1095.3 1056.7,1090 1061.7,1065 1066,1054.3 1070,1090 1075,1072.7 1079.3,1068.3 1084,1088.3 1088.3,1083.3 1093.3,1099.3 1100,1100 1180,1100"/>
<polyline stroke="#ff1f1f" stroke-width="2" points="132.7,1099.3 136.7,1095 143.3,1070 153.3,1046.7 163.3,1025 173.3,1019.3 183.3,1016.7 191.7,1015.3 199.3,1010.7 213.3,1010 233.3,1009 266.7,1008.7 296.7,1008.3 313.3,1006 316.7,1001.7 321.7,988.3 328.3,970 335,955 340,950 366.7,948.3 400,947.7 405,944 420,943.3 445,942 550,941 650,940 680,939 730,937.3 738.3,934 746.7,927.3 751.7,925.7 761.7,925 783.3,922.7 863.3,922.3 913.3,921.7 986.7,921.3 1000,919 1028.3,915 1035,910.7 1043.3,908.3 1056.7,906.7 1066.7,899 1070,898.3 1078.3,892.3 1088.3,888.7 1180,888.7"/>
<line x1="130" y1="1099.6" x2="1181" y2="1099.6" stroke="#1f1fff" stroke-width="2"/>
</g>
<g font-size="21.5">
<text x="141.7" y="924" textLength="255.6" lengthAdjust="spacingAndGlyphs" fill="#1e8c1e">Liquid precip (mm/h)</text>
<text x="141.7" y="951.7" textLength="241.6" lengthAdjust="spacingAndGlyphs" fill="#1f1fff">Snow precip (mm/h)</text>
<text x="141.7" y="979.3" textLength="253.3" lengthAdjust="spacingAndGlyphs" fill="#ff1f1f">Total cumulated (cm)</text>
</g>
<g font-size="20" text-anchor="end">
<text x="108.5" y="883.4" textLength="40.6" lengthAdjust="spacingAndGlyphs">2.40</text>
<text x="108.5" y="920.6" textLength="40.6" lengthAdjust="spacingAndGlyphs">2.00</text>
<text x="108.5" y="957.8" textLength="40.6" lengthAdjust="spacingAndGlyphs">1.60</text>
<text x="108.5" y="995" textLength="40.6" lengthAdjust="spacingAndGlyphs">1.20</text>
<text x="108.5" y="1032.3" textLength="40.6" lengthAdjust="spacingAndGlyphs">0.80</text>
<text x="108.5" y="1069.5" textLength="40.6" lengthAdjust="spacingAndGlyphs">0.40</text>
<text x="108.5" y="1106.7" textLength="40.6" lengthAdjust="spacingAndGlyphs">0.00</text>
</g>
<text transform="translate(53,990) rotate(-90)" font-size="21" text-anchor="middle" textLength="165" lengthAdjust="spacingAndGlyphs">Precip (mm/h)</text>
<text font-size="15" y="1124.3" x="123 130.5 149.3 156.8 175.7 183.2 202 209.5 228.3 235.8 254.6 262.1 281 288.5 307.3 314.8 333.6 341.1 359.9 367.4 386.3 393.8 412.6 420.1 438.9 446.4 465.2 472.7 491.6 499.1 517.9 525.4 544.2 551.7 570.5 578 596.9 604.4 623.2 630.7 649.5 657 675.8 683.3 702.2 709.7 728.5 736 754.8 762.3 781.1 788.6 807.5 815 833.8 841.3 860.1 867.6 886.4 893.9 912.8 920.3 939.1 946.6 965.4 972.9 991.7 999.2 1018.1 1025.6 1044.4 1051.9 1070.7 1078.2 1097 1104.5 1123.4 1130.9 1149.7 1157.2 1176 1183.5">0006121800061218000612180006121800061218000612180006121800061218000612180006121800</text>
<g font-size="20">
<text x="141" y="1148.3" textLength="41" lengthAdjust="spacingAndGlyphs">NOV</text><text x="220" y="1148.3" text-anchor="end" textLength="25" lengthAdjust="spacingAndGlyphs">28</text>
<text x="246.3" y="1148.3" textLength="41" lengthAdjust="spacingAndGlyphs">NOV</text><text x="325.3" y="1148.3" text-anchor="end" textLength="25" lengthAdjust="spacingAndGlyphs">29</text>
<text x="351.6" y="1148.3" textLength="41" lengthAdjust="spacingAndGlyphs">NOV</text><text x="430.6" y="1148.3" text-anchor="end" textLength="25" lengthAdjust="spacingAndGlyphs">30</text>
<text x="456.9" y="1148.3" textLength="41" lengthAdjust="spacingAndGlyphs">DEC</text><text x="530.9" y="1148.3" text-anchor="end" textLength="11" lengthAdjust="spacingAndGlyphs">1</text>
<text x="562.2" y="1148.3" textLength="41" lengthAdjust="spacingAndGlyphs">DEC</text><text x="636.2" y="1148.3" text-anchor="end" textLength="11" lengthAdjust="spacingAndGlyphs">2</text>
<text x="667.5" y="1148.3" textLength="41" lengthAdjust="spacingAndGlyphs">DEC</text><text x="741.5" y="1148.3" text-anchor="end" textLength="11" lengthAdjust="spacingAndGlyphs">3</text>
<text x="772.8" y="1148.3" textLength="41" lengthAdjust="spacingAndGlyphs">DEC</text><text x="846.8" y="1148.3" text-anchor="end" textLength="11" lengthAdjust="spacingAndGlyphs">4</text>
<text x="878.1" y="1148.3" textLength="41" lengthAdjust="spacingAndGlyphs">DEC</text><text x="952.1" y="1148.3" text-anchor="end" textLength="11" lengthAdjust="spacingAndGlyphs">5</text>
<text x="983.4" y="1148.3" textLength="41" lengthAdjust="spacingAndGlyphs">DEC</text><text x="1057.4" y="1148.3" text-anchor="end" textLength="11" lengthAdjust="spacingAndGlyphs">6</text>
<text x="1088.7" y="1148.3" textLength="41" lengthAdjust="spacingAndGlyphs">DEC</text><text x="1162.7" y="1148.3" text-anchor="end" textLength="11" lengthAdjust="spacingAndGlyphs">7</text>
</g>

<!-- ============ PANEL 5 ============ -->
<line x1="445.9" y1="1153" x2="445.9" y2="1385" stroke="#999" stroke-width="1.5" stroke-dasharray="3 3"/>
<g stroke="#333" fill="none">
<line x1="118" y1="1165" x2="1194" y2="1165" stroke-width="1.5"/>
<line x1="118" y1="1374" x2="1194" y2="1374" stroke-width="1.5"/>
<line x1="130" y1="1160" x2="130" y2="1380" stroke-width="1.5"/>
<line x1="1183" y1="1160" x2="1183" y2="1380" stroke-width="1.5"/>
<line x1="118" y1="1270" x2="130" y2="1270" stroke-width="1.5"/>
<line x1="1183" y1="1270" x2="1193" y2="1270" stroke-width="1.5"/>
<path stroke-width="1.3" d="M235.3 1160V1165M340.6 1160V1165M551.2 1160V1165M656.5 1160V1165M761.8 1160V1165M867.1 1160V1165M972.4 1160V1165M1077.7 1160V1165M235.3 1374V1380M340.6 1374V1380M551.2 1374V1380M656.5 1374V1380M761.8 1374V1380M867.1 1374V1380M972.4 1374V1380M1077.7 1374V1380"/>
</g>
<line x1="130" y1="1270" x2="1180" y2="1270" stroke="#1f1fff" stroke-width="2"/>
<line x1="130" y1="1270" x2="1180" y2="1270" stroke="#ff1f1f" stroke-width="2"/>
<g font-size="21.5">
<text x="138.5" y="1201.7" textLength="202" lengthAdjust="spacingAndGlyphs" fill="#ff1f1f">Snow height (cm)</text>
<text x="138.5" y="1229" textLength="257" lengthAdjust="spacingAndGlyphs" fill="#1f1fff">Snow height (cm W.E.)</text>
</g>
<text x="107" y="1276.7" font-size="20" text-anchor="end" textLength="42" lengthAdjust="spacingAndGlyphs">0.00</text>
<text transform="translate(53.5,1269) rotate(-90)" font-size="21" text-anchor="middle" textLength="188" lengthAdjust="spacingAndGlyphs">Snow height (cm)</text>
<g font-size="22" text-anchor="middle">
<text x="183" y="1366.7" textLength="24" lengthAdjust="spacingAndGlyphs">Fr</text>
<text x="287.9" y="1366.7" textLength="24" lengthAdjust="spacingAndGlyphs" fill="#ff1f1f">Sa</text>
<text x="392.8" y="1366.7" textLength="27" lengthAdjust="spacingAndGlyphs" fill="#ff1f1f">Su</text>
<text x="497.7" y="1366.7" textLength="29" lengthAdjust="spacingAndGlyphs">Mo</text>
<text x="602.6" y="1366.7" textLength="26" lengthAdjust="spacingAndGlyphs">Tu</text>
<text x="707.5" y="1366.7" textLength="30" lengthAdjust="spacingAndGlyphs">We</text>
<text x="812.4" y="1366.7" textLength="26.3" lengthAdjust="spacingAndGlyphs">Th</text>
<text x="917.3" y="1366.7" textLength="24" lengthAdjust="spacingAndGlyphs">Fr</text>
<text x="1022.2" y="1366.7" textLength="24" lengthAdjust="spacingAndGlyphs" fill="#ff1f1f">Sa</text>
<text x="1127.1" y="1366.7" textLength="27" lengthAdjust="spacingAndGlyphs" fill="#ff1f1f">Su</text>
</g>
<g font-size="15" text-anchor="middle">
<text x="182" y="1400">28</text>
<text x="287.2" y="1400">29</text>
<text x="392.4" y="1400">30</text>
<text x="497.6" y="1400">1</text>
<text x="602.8" y="1400">2</text>
<text x="708" y="1400">3</text>
<text x="813.2" y="1400">4</text>
<text x="918.4" y="1400">5</text>
<text x="1023.6" y="1400">6</text>
<text x="1128.8" y="1400">7</text>
</g>

<!-- ============ FOOTER ============ -->
<text x="2" y="1413.3" font-size="17" fill="#ff1f1f" textLength="281" lengthAdjust="spacingAndGlyphs">MARv3.14 model forced by GFS</text>
<text x="2" y="1434" font-size="17" fill="#ff1f1f" textLength="395" lengthAdjust="spacingAndGlyphs">(c) Lab. of Climatology, University of Liege</text>
<text x="456" y="1424" font-size="23" textLength="227" lengthAdjust="spacingAndGlyphs">Time UTC (GMT+0h)</text>
<text x="847" y="1423.5" font-size="22" textLength="39" lengthAdjust="spacingAndGlyphs">DEC</text>
<text x="907" y="1426.7" font-size="30" fill="#2a2aff" textLength="283" lengthAdjust="spacingAndGlyphs">Lobbes (alt. 162m)</text>
</svg>
</body></html>
